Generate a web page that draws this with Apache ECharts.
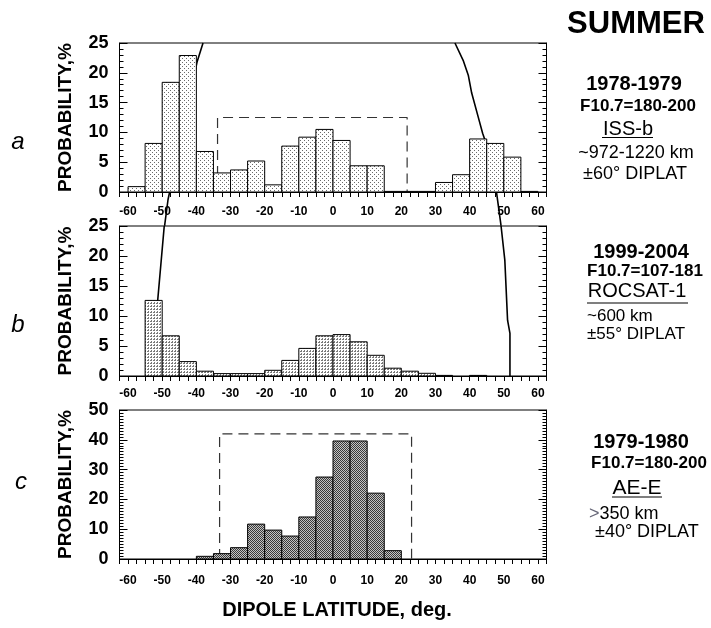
<!DOCTYPE html>
<html><head><meta charset="utf-8">
<script src="https://cdn.jsdelivr.net/npm/echarts@6/dist/echarts.min.js"></script>
<style>html,body{margin:0;padding:0;background:#fff}#c{width:711px;height:628px}</style>
</head><body><div id="c"></div>
<script>
// ---- data ----
const binStarts = [-60,-55,-50,-45,-40,-35,-30,-25,-20,-15,-10,-5,0,5,10,15,20,25,30,35,40,45,50,55];
const binWidth = 5;
const valuesA = [0.9,8.15,18.4,22.9,6.8,3.2,3.7,5.2,1.2,7.7,9.2,10.5,8.65,4.4,4.4,0.1,0.1,0.1,1.6,2.9,8.9,8.15,5.85,0.1];
const valuesB = [0,12.6,6.7,2.4,0.8,0.4,0.4,0.4,0.95,2.6,4.6,6.7,6.9,5.7,3.45,1.3,0.8,0.45,0.1,0,0.1,0,0,0];
const valuesC = [0,0,0,0,0.9,1.8,3.8,11.7,9.7,7.7,14.1,27.5,39.6,39.6,22.1,2.8,0,0,0,0,0,0,0,0];
const leftBoundaryA = [[-38.05,25],[-39.8,21.8],[-48.3,-1.3],[-49.3,-5.7]];
const rightBoundaryA = [[35.7,25],[38.1,22.1],[39.6,19.6],[40.6,16.6],[42.5,12.6],[43.8,9.85],[44.5,8.7],[47.9,-0.2],[49.2,-5.7]];
const leftBoundaryB = [[-49.4,25],[-51.3,12.7],[-52.5,0]];
const rightBoundaryB = [[49.2,25],[50.3,19.3],[51.1,9.3],[51.8,7.1],[51.8,0]];
const boxA = [[-33.8,0],[-33.8,12.5],[21.7,12.5],[21.7,0]];
const boxC = [[-33.2,0],[-33.2,42],[23,42],[23,0]];
const yMaxA = 25, yMaxB = 25, yMaxC = 50;
const yStepA = 5, yStepB = 5, yStepC = 10;
const xMin = -62.5, xMax = 62.5, xStep = 2.5, xLabelStep = 10;
const panelLetters = ['a','b','c'];
const yAxisTitle = 'PROBABILITY,%';
const xAxisTitle = 'DIPOLE LATITUDE, deg.';
const seasonTitle = 'SUMMER';
const infoA = ['1978-1979','F10.7=180-200','ISS-b','~972-1220 km','±60° DIPLAT'];
const infoB = ['1999-2004','F10.7=107-181','ROCSAT-1','~600 km','±55° DIPLAT'];
const infoC = ['1979-1980','F10.7=180-200','AE-E','>350 km','±40° DIPLAT'];

// ---- patterns ----
function makePattern(kind){
  const cv = document.createElement('canvas');
  const ctx = cv.getContext('2d');
  if (kind === 'c') {
    cv.width = 2; cv.height = 2;
    ctx.fillStyle = '#c4c4c4'; ctx.fillRect(0,0,2,2);
    ctx.fillStyle = '#3a3a3a'; ctx.fillRect(0,0,1,1); ctx.fillRect(1,1,1,1);
  } else if (kind === 'b') {
    cv.width = 3; cv.height = 3;
    ctx.fillStyle = '#ffffff'; ctx.fillRect(0,0,3,3);
    ctx.fillStyle = '#7a7a7a'; ctx.fillRect(0,0,2,1); ctx.fillRect(1,2,1,1);
  } else {
    cv.width = 4; cv.height = 4;
    ctx.fillStyle = '#ffffff'; ctx.fillRect(0,0,4,4);
    ctx.fillStyle = '#6a6a6a'; ctx.fillRect(0,0,1,1); ctx.fillRect(2,2,1,1);
  }
  return {image: cv, repeat: 'repeat'};
}
const patterns = {a: makePattern('a'), b: makePattern('b'), c: makePattern('c')};

const FONT = '"Liberation Sans", Arial, sans-serif';
const grids = [
  {left:119.5, top:43, width:427, height:149},
  {left:119.5, top:226, width:427, height:150},
  {left:119.5, top:410, width:427, height:149}
];
const labelMargins = [14, 12, 16];
const yMaxes = [yMaxA, yMaxB, yMaxC];
const ySteps = [yStepA, yStepB, yStepC];
const yMinorSplits = [5, 5, 10];

const xAxes = [], yAxes = [], series = [];
grids.forEach((g, i) => {
  xAxes.push({
    type:'value', gridIndex:i, min:xMin, max:xMax, interval:xStep,
    axisLine:{show:true, onZero:false, lineStyle:{color:'#000', width:1}},
    axisTick:{show:true, inside:false, length:5, lineStyle:{color:'#000'}},
    splitLine:{show:false},
    axisLabel:{interval:0, margin:labelMargins[i], color:'#000', fontFamily:FONT, fontWeight:'bold', fontSize:12,
      formatter: v => (Math.abs(v) <= 60 && Math.round(v) % xLabelStep === 0) ? String(Math.round(v)) : ''}
  });
  yAxes.push({
    type:'value', gridIndex:i, min:0, max:yMaxes[i], interval:ySteps[i], position:'left',
    name:yAxisTitle, nameLocation:'middle', nameRotate:90, nameGap:44,
    nameTextStyle:{color:'#000', fontFamily:FONT, fontWeight:'bold', fontSize:19},
    axisLine:{show:true, onZero:false, lineStyle:{color:'#000'}},
    axisTick:{show:true, inside:true, length:8, lineStyle:{color:'#000'}},
    minorTick:{show:true, splitNumber:yMinorSplits[i], length:4, lineStyle:{color:'#000'}},
    splitLine:{show:false},
    axisLabel:{margin:11, color:'#000', fontFamily:FONT, fontWeight:'bold', fontSize:18}
  });
  yAxes.push({
    type:'value', gridIndex:i, min:0, max:yMaxes[i], interval:ySteps[i], position:'right',
    axisLine:{show:true, onZero:false, lineStyle:{color:'#000'}},
    axisTick:{show:true, inside:true, length:8, lineStyle:{color:'#000'}},
    minorTick:{show:true, splitNumber:yMinorSplits[i], length:4, lineStyle:{color:'#000'}},
    splitLine:{show:false},
    axisLabel:{show:false}
  });
});

function barSeries(idx, values, pat){
  return {
    type:'custom', xAxisIndex:idx, yAxisIndex:idx*2, z:5,
    data: binStarts.map((s,k) => [s, s + binWidth, values[k]]),
    encode:{x:[0,1], y:2},
    renderItem: (params, api) => {
      const v = api.value(2);
      if (!v) return null;
      const p0 = api.coord([api.value(0), v]);
      const p1 = api.coord([api.value(1), 0]);
      return {type:'rect', shape:{x:p0[0], y:p0[1], width:p1[0]-p0[0], height:p1[1]-p0[1]},
        style:{fill:pat, stroke:'#000', lineWidth:1}};
    }
  };
}
function lineSeries(idx, pts, opts){
  return Object.assign({
    type:'line', xAxisIndex:idx, yAxisIndex:idx*2, data:pts, showSymbol:false, symbol:'none',
    clip:false, z:2, silent:true, animation:false,
    lineStyle:{color:'#000', width:1.6}
  }, opts || {});
}
series.push(lineSeries(0, leftBoundaryA));
series.push(lineSeries(0, rightBoundaryA));
series.push(lineSeries(1, leftBoundaryB));
series.push(lineSeries(1, rightBoundaryB));
series.push(lineSeries(0, boxA, {lineStyle:{color:'#333', width:1.2, type:[10,6]}}));
series.push(lineSeries(2, boxC, {lineStyle:{color:'#333', width:1.2, type:[10,6]}}));
series.push(barSeries(0, valuesA, patterns.a));
series.push(barSeries(1, valuesB, patterns.b));
series.push(barSeries(2, valuesC, patterns.c));

function txt(x, y, text, size, weight, align, extra){
  return {type:'text', x:x, y:y, z:100, style:{text:text, fill:'#000',
    font: (extra && extra.italic ? 'italic ' : '') + (weight||'normal') + ' ' + size + 'px ' + FONT,
    textAlign:align||'center', textVerticalAlign:'middle'}};
}
function uline(x1, x2, y){
  return {type:'line', z:100, shape:{x1:x1, y1:y, x2:x2, y2:y}, style:{stroke:'#000', lineWidth:1.2}};
}
const graphics = [
  txt(636, 24, seasonTitle, 31, 'bold'),
  txt(18, 142, panelLetters[0], 24, 'normal', 'center', {italic:true}),
  txt(18, 325, panelLetters[1], 24, 'normal', 'center', {italic:true}),
  txt(21, 482, panelLetters[2], 24, 'normal', 'center', {italic:true}),
  txt(337, 610, xAxisTitle, 20, 'bold'),
  // panel a info
  txt(634, 84, infoA[0], 20, 'bold'),
  txt(638, 106, infoA[1], 17, 'bold'),
  txt(628, 129, infoA[2], 20, 'normal'),
  uline(602, 653, 137.5),
  txt(636, 153, infoA[3], 18, 'normal'),
  txt(635, 174, infoA[4], 18, 'normal'),
  // panel b info
  txt(641, 252, infoB[0], 20, 'bold'),
  txt(645, 271, infoB[1], 17, 'bold'),
  txt(637, 291, infoB[2], 20, 'normal'),
  uline(587, 688, 303),
  txt(587, 316, infoB[3], 17, 'normal', 'left'),
  txt(587, 334, infoB[4], 17, 'normal', 'left'),
  // panel c info
  txt(641, 442, infoC[0], 20, 'bold'),
  txt(649, 463, infoC[1], 17, 'bold'),
  txt(637, 488, infoC[2], 21, 'normal'),
  uline(612, 662, 497),
  {type:'text', x:589, y:514, z:100, style:{text:'{g|' + infoC[3].slice(0,1) + '}' + '{k|' + infoC[3].slice(1) + '}',
    textAlign:'left', textVerticalAlign:'middle',
    rich:{g:{fill:'#667', font:'normal 18px ' + FONT}, k:{fill:'#000', font:'normal 18px ' + FONT}}}},
  txt(595, 532, infoC[4], 18, 'normal', 'left')
];

const chart = echarts.init(document.getElementById('c'), null, {renderer:'canvas'});
chart.setOption({
  animation:false,
  backgroundColor:'#fff',
  grid: grids.map(g => Object.assign({show:true, borderColor:'#000', borderWidth:1, backgroundColor:'transparent'}, g)),
  xAxis: xAxes,
  yAxis: yAxes,
  series: series,
  graphic: graphics
});
</script>
</body></html>
